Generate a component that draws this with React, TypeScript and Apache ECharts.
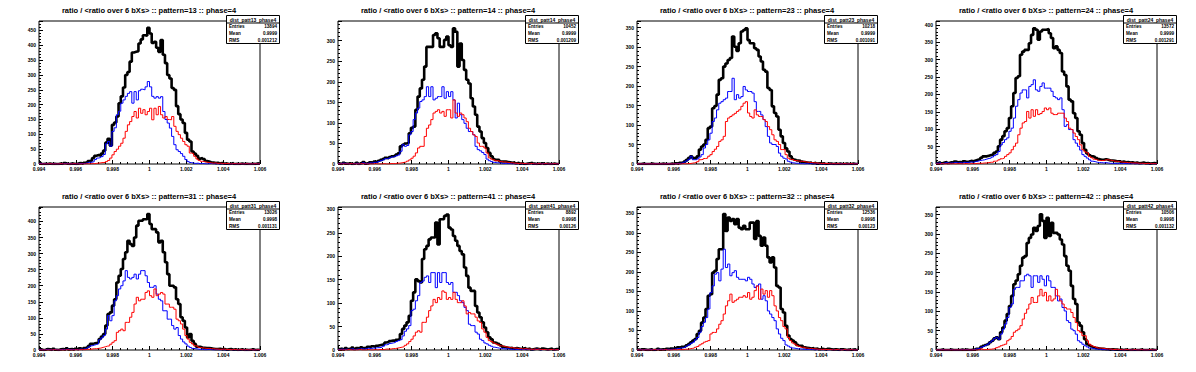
import { useEffect, useRef } from "react";
import * as echarts from "echarts";

// ---------- data ----------
const BIN_COUNT = 100;
const X_MIN = 0.994;
const X_MAX = 1.006;
const X_STEP = 0.002;
const Y_STEP = 50;

const patterns = ["13", "14", "23", "24", "31", "41", "32", "42"];
const entries = ["13894", "10452", "10218", "13572", "13026", "8892", "12536", "10506"];
const means = ["0.9999", "0.9999", "0.9999", "0.9999", "0.9998", "0.9998", "0.9998", "0.9998"];
const rmsValues = ["0.001212", "0.001209", "0.001091", "0.001291", "0.001131", "0.00126", "0.00123", "0.001132"];
const yMaxes = [482, 348, 367, 411, 445, 305, 366, 370];

const p13Black = [
  3,0,1,0,2,0,1,0,0,2, 0,3,1,0,2,1,0,2,3,1, 4,6,10,12,20,28,30,28,35,45,
  72,85,62,132,140,160,205,228,258,300, 310,345,376,378,380,406,420,434,432,459,
  440,408,412,392,378,418,368,340,300,288, 256,250,195,168,150,138,105,82,76,42,
  35,28,18,20,17,10,8,6,5,3, 4,2,3,1,2,0,1,3,0,1, 0,2,0,1,0,0,1,0,2,1,
];
const p13Blue = [
  2,0,1,0,1,0,1,0,0,1, 0,2,1,0,1,0,0,1,2,1, 2,4,6,6,8,15,20,22,25,32,
  68,76,60,110,122,166,178,205,216,228, 238,244,205,244,216,247,252,250,260,278,
  260,228,222,227,222,227,177,150,138,121, 93,65,48,42,35,26,15,8,5,3,
  2,3,1,2,1,0,1,2,0,1, 0,0,1,0,1,0,0,1,0,0, 1,0,0,1,0,0,0,1,0,0,
];
const p13Red = [
  0,0,0,0,1,0,0,0,0,1, 0,0,0,0,0,1,0,0,0,0, 0,1,0,1,1,2,3,4,5,5,
  8,12,20,31,42,50,60,70,87,110, 132,143,160,177,155,188,171,183,166,177,
  188,149,188,166,194,166,155,160,150,149, 160,127,110,99,87,76,65,60,37,35,
  26,17,12,9,8,6,5,4,3,4, 2,3,2,1,2,1,0,1,1,0, 1,0,0,1,0,0,0,1,0,0,
];

const p14Black = [
  2,0,3,1,0,2,0,1,3,0, 2,5,1,2,4,3,6,5,8,10, 12,15,14,17,19,20,23,26,43,47,
  50,51,75,88,91,132,164,184,205,237, 285,285,285,314,318,306,285,285,302,310,
  289,285,330,322,237,293,253,229,205,196, 160,140,120,91,79,63,51,39,27,19,
  12,10,10,6,6,6,5,4,3,4, 2,3,1,2,0,1,2,3,1,0, 1,0,2,0,1,0,0,1,0,0,
];
const p14Blue = [
  1,0,2,1,0,1,0,1,2,0, 1,3,1,2,3,2,4,4,6,8, 10,13,13,15,17,18,20,22,31,47,
  43,45,71,79,108,124,136,152,156,164, 188,164,188,156,160,164,164,188,160,176,
  164,176,156,112,148,120,108,99,87,79, 79,71,43,35,32,28,23,12,8,6,
  4,3,3,2,1,2,1,1,0,1, 0,1,0,1,0,0,1,0,0,0, 1,0,1,0,0,0,0,1,0,0,
];
const p14Red = [
  0,0,0,0,0,1,0,0,0,0, 1,0,0,0,0,0,1,0,0,0, 1,0,0,1,1,1,2,2,3,4,
  5,7,10,14,19,27,39,43,43,67, 87,95,108,124,128,132,124,128,116,132,
  132,112,156,124,116,124,120,112,103,87, 79,71,67,51,43,43,39,27,15,12,
  10,8,8,6,5,5,4,3,3,2, 2,1,2,1,1,0,1,1,0,0, 1,0,0,1,0,0,0,1,0,0,
];

const p23Black = [
  0,0,1,0,0,0,1,0,0,0, 0,1,0,0,0,1,0,2,1,3, 4,6,10,15,20,15,15,20,37,45,
  50,62,92,96,143,149,178,216,220,250, 258,267,272,327,301,290,310,340,344,348,
  318,310,310,297,293,276,263,242,237,195, 190,148,131,122,88,71,54,40,32,20,
  13,11,9,8,6,5,4,3,4,2, 3,1,2,1,2,0,1,1,0,1, 0,1,0,0,1,0,0,1,0,0,
];
const p23Blue = [
  0,0,0,1,0,0,0,0,1,0, 0,0,0,1,0,0,0,1,1,2, 3,5,8,12,20,11,11,13,18,24,
  41,50,62,79,109,118,139,156,160,165, 169,186,186,220,165,178,169,173,199,190,
  186,186,182,160,135,135,126,114,96,71, 54,50,50,45,28,20,15,13,7,5,
  3,2,2,1,1,0,1,0,1,0, 0,1,0,0,0,1,0,0,0,0, 0,1,0,0,0,0,0,0,1,0,
];
const p23Red = [
  0,0,0,0,0,0,0,0,0,0, 0,0,0,0,0,0,0,0,0,0, 1,0,1,1,2,3,4,6,11,12,
  14,15,20,24,32,38,45,58,62,71, 109,118,122,126,130,135,139,148,156,160,
  131,122,118,139,126,122,122,114,109,96, 88,75,62,58,50,37,37,24,15,12,
  11,9,8,7,7,6,5,4,4,3, 3,2,2,1,2,1,1,0,1,0, 1,0,0,1,0,0,1,0,0,0,
];

const p24Black = [
  3,5,2,4,6,3,5,4,7,5, 6,4,8,6,7,9,8,10,12,14, 18,22,22,24,26,27,32,36,51,70,
  80,94,103,132,166,204,247,252,314,323, 328,328,347,371,390,386,357,381,386,386,
  388,376,362,333,338,328,319,266,256,223, 185,180,146,132,94,84,60,41,30,25,
  22,20,17,14,12,12,14,12,10,10, 9,8,8,6,7,5,6,4,5,3, 4,2,3,4,2,3,1,2,3,1,
];
const p24Blue = [
  2,4,1,3,4,2,3,3,5,3, 4,3,5,4,5,6,5,7,8,10, 11,12,14,16,17,20,24,27,36,55,
  62,70,75,94,103,132,166,185,204,213, 213,190,223,228,242,213,209,223,233,218,
  218,218,209,194,190,185,190,156,108,113, 99,99,70,60,51,40,27,22,17,12,
  8,7,5,4,4,3,4,3,2,2, 2,1,2,1,2,1,1,0,1,1, 0,1,0,1,1,0,0,1,0,0,
];
const p24Red = [
  0,0,1,0,0,1,0,1,0,1, 1,0,1,1,0,1,1,1,2,2, 2,3,3,4,5,5,8,9,12,15,
  17,22,27,32,41,51,60,84,103,118, 122,151,132,156,137,156,142,145,151,161,
  156,161,146,142,142,146,146,146,132,122, 103,99,89,79,70,55,41,35,32,22,
  18,14,12,10,10,10,12,12,11,10, 8,8,7,6,5,5,4,4,3,3, 3,2,2,2,1,2,1,1,1,0,
];

const p31Black = [
  2,0,1,3,2,0,4,1,0,2, 3,1,5,2,3,1,4,2,5,3, 6,8,12,19,20,22,24,34,42,50,
  76,112,117,138,158,210,231,252,283,304, 340,330,324,350,387,402,402,407,407,423,
  392,376,376,366,335,340,304,273,236,200, 200,195,158,143,102,91,70,39,50,29,
  19,10,10,8,7,6,6,5,4,3, 3,4,2,3,1,2,3,1,2,0, 1,2,0,1,0,1,2,0,1,0,
];
const p31Blue = [
  1,0,1,2,1,0,2,1,0,1, 2,1,3,1,2,1,2,1,3,2, 4,6,9,13,15,17,19,32,38,45,
  65,107,91,107,153,169,190,200,215,247, 226,221,226,236,221,236,247,247,231,210,
  195,195,200,174,158,153,122,122,96,96, 76,65,70,45,34,25,19,12,8,5,
  4,3,2,2,1,1,2,1,0,1, 1,0,1,0,0,1,1,0,1,0, 0,1,0,0,0,1,0,0,1,0,
];
const p31Red = [
  0,0,0,0,0,0,1,0,0,0, 0,0,1,0,0,0,1,0,1,1, 1,2,2,3,4,4,5,6,8,10,
  12,13,18,24,29,55,60,65,60,86, 86,102,117,143,164,153,158,158,179,184,
  169,164,190,169,174,179,174,143,143,133, 133,127,96,91,81,65,45,34,24,19,
  13,11,8,7,6,5,5,4,4,3, 3,2,2,3,1,2,1,1,2,0, 1,1,0,1,0,1,0,0,1,0,
];

const p41Black = [
  2,3,1,4,2,3,5,2,4,3, 6,4,5,7,6,8,7,9,10,11, 12,16,17,19,20,20,22,23,34,45,
  52,59,73,105,123,151,147,144,194,215, 222,236,240,240,272,225,279,279,286,289,
  261,257,243,233,222,211,204,176,158,133, 126,126,94,80,70,59,48,38,27,23,
  16,15,13,10,7,6,5,4,5,3, 4,3,2,3,4,2,3,1,2,3, 2,1,3,2,1,2,3,1,2,2,
];
const p41Blue = [
  1,2,1,2,1,2,3,1,2,2, 3,2,3,4,3,4,4,5,5,6, 8,11,12,14,15,16,18,20,22,30,
  40,45,52,84,87,105,116,144,147,155, 158,144,165,165,133,165,144,165,165,144,
  140,144,123,123,116,105,101,91,84,55, 52,52,38,34,23,20,15,13,10,8,
  6,5,4,3,3,2,3,2,1,2, 1,2,1,1,2,1,1,0,1,2, 1,0,1,1,0,1,1,0,1,1,
];
const p41Red = [
  0,0,0,0,1,0,0,0,0,1, 0,0,0,1,0,0,1,0,1,1, 1,2,2,2,3,3,4,5,6,7,
  10,13,18,23,30,38,41,38,59,59, 70,84,94,108,101,112,108,126,123,108,
  112,108,123,108,101,101,105,94,77,80, 77,77,70,62,59,45,38,27,20,18,
  15,13,11,9,8,7,6,5,5,4, 4,3,3,2,3,2,2,1,2,1, 2,1,1,1,0,1,1,0,1,0,
];

const p32Black = [
  1,0,2,1,0,1,2,0,1,3, 1,2,1,3,2,4,3,5,7,6, 8,9,12,15,20,24,28,41,49,70,
  83,105,139,143,198,203,233,258,258,348, 305,339,330,335,322,335,313,309,318,309,
  309,326,326,284,330,292,267,288,267,237, 224,237,211,164,160,105,96,62,37,28,
  24,20,13,11,11,7,6,5,4,5, 3,4,2,3,2,1,3,2,1,2, 1,0,2,1,0,1,0,1,2,0,
];
const p32Blue = [
  0,1,0,1,0,1,1,0,1,2, 1,1,1,2,1,2,2,3,4,5, 6,7,10,13,17,20,26,32,45,60,
  71,83,105,147,164,194,198,177,207,258, 211,220,190,198,203,186,181,181,181,177,
  186,181,169,160,164,169,130,139,126,100, 92,83,75,54,41,30,24,13,10,7,
  5,4,3,3,2,2,1,2,1,1, 0,1,1,0,1,0,0,1,0,1, 0,0,1,0,0,0,1,0,0,0,
];
const p32Red = [
  0,0,0,0,0,0,0,1,0,0, 0,0,1,0,0,0,1,0,1,1, 1,2,2,3,4,5,7,9,13,16,
  20,22,24,41,45,45,54,66,75,92, 113,126,143,122,126,130,135,135,139,135,
  147,130,135,152,164,130,156,143,152,135, 152,139,113,100,83,75,60,54,32,24,
  18,15,11,9,7,7,5,4,4,3, 3,2,2,1,2,1,1,1,0,1, 1,0,0,1,0,0,1,0,0,0,
];

const p42Black = [
  0,0,1,0,0,0,1,0,0,0, 0,1,0,1,0,0,1,1,3,4, 8,11,13,15,20,24,30,33,28,46,
  58,76,93,114,140,170,180,196,218,239, 243,277,290,299,316,308,321,351,334,290,
  342,295,329,303,303,299,286,273,243,218, 205,166,132,119,71,63,46,28,15,12,
  9,7,5,4,3,3,2,2,1,2, 1,1,0,1,0,1,0,0,1,0, 0,0,1,0,0,0,0,1,0,0,
];
const p42Blue = [
  0,0,1,0,0,0,1,0,0,0, 0,1,0,1,0,0,1,1,3,4, 7,9,12,15,20,24,30,33,28,41,
  54,67,84,110,119,157,162,162,179,179, 192,196,192,162,192,192,175,192,183,166,
  192,179,162,162,140,127,132,110,101,76, 71,54,50,41,24,20,15,11,8,5,
  4,3,2,2,1,1,1,0,1,0, 0,1,0,0,0,0,1,0,0,0, 0,0,1,0,0,0,0,0,0,0,
];
const p42Red = [
  0,0,0,0,0,0,0,0,0,0, 0,0,0,0,0,0,0,0,0,1, 3,1,1,2,2,3,4,6,8,11,
  13,15,24,28,35,46,50,54,63,80, 95,106,119,136,123,123,140,157,140,149,
  127,140,127,132,157,140,127,119,110,106, 106,97,84,71,50,46,37,37,24,15,
  11,9,7,5,5,4,3,3,2,2, 1,2,1,1,0,1,1,0,0,1, 0,0,1,0,0,0,1,0,0,0,
];

const blackSeries = [p13Black, p14Black, p23Black, p24Black, p31Black, p41Black, p32Black, p42Black];
const blueSeries = [p13Blue, p14Blue, p23Blue, p24Blue, p31Blue, p41Blue, p32Blue, p42Blue];
const redSeries = [p13Red, p14Red, p23Red, p24Red, p31Red, p41Red, p32Red, p42Red];

// ---------- layout ----------
const W = 1196;
const H = 372;
const PANEL_W = 299;
const PANEL_H = 186;
const PLOT_L = 39;
const PLOT_T = 21;
const PLOT_W = 221;
const PLOT_H = 143;
const FONT = "'Liberation Sans', Arial, Helvetica, sans-serif";

const binEdge = (i: number) => X_MIN + (i * (X_MAX - X_MIN)) / BIN_COUNT;
const toSteps = (vals: number[]) => {
  const pts: number[][] = vals.map((v, i) => [binEdge(i), v]);
  pts.push([binEdge(vals.length), vals[vals.length - 1]]);
  return pts;
};

function buildOption() {
  const grids: any[] = [];
  const xAxes: any[] = [];
  const yAxes: any[] = [];
  const series: any[] = [];
  const graphics: any[] = [];

  patterns.forEach((pat, idx) => {
    const col = idx % 4;
    const row = Math.floor(idx / 4);
    const ox = col * PANEL_W;
    const oy = row * PANEL_H;

    grids.push({
      left: ox + PLOT_L,
      top: oy + PLOT_T,
      width: PLOT_W,
      height: PLOT_H,
      show: true,
      borderColor: "#000",
      borderWidth: 1,
      backgroundColor: "transparent",
    });

    xAxes.push({
      type: "value",
      gridIndex: idx,
      min: X_MIN,
      max: X_MAX,
      interval: X_STEP,
      axisLine: { show: false },
      splitLine: { show: false },
      axisTick: { show: true, inside: true, length: 4, lineStyle: { color: "#000", width: 1 } },
      minorTick: { show: true, splitNumber: 5, length: 2, lineStyle: { color: "#000", width: 1 } },
      axisLabel: {
        fontSize: 5,
        fontFamily: FONT,
        fontWeight: "bold",
        color: "#000",
        margin: 2,
        formatter: (v: number) => String(parseFloat(v.toFixed(3))),
      },
    });

    yAxes.push({
      type: "value",
      gridIndex: idx,
      min: 0,
      max: yMaxes[idx],
      interval: Y_STEP,
      axisLine: { show: false },
      splitLine: { show: false },
      axisTick: { show: true, inside: true, length: 4, lineStyle: { color: "#000", width: 1 } },
      minorTick: { show: true, splitNumber: 5, length: 2, lineStyle: { color: "#000", width: 1 } },
      axisLabel: {
        fontSize: 5,
        fontFamily: FONT,
        fontWeight: "bold",
        color: "#000",
        margin: 3,
        formatter: (v: number) => (Math.abs(v % Y_STEP) < 1e-6 ? String(Math.round(v)) : ""),
      },
    });

    const mk = (vals: number[], color: string, width: number, z: number) => ({
      type: "line",
      xAxisIndex: idx,
      yAxisIndex: idx,
      data: toSteps(vals),
      step: "end",
      symbol: "none",
      showSymbol: false,
      silent: true,
      clip: true,
      z,
      lineStyle: { color, width },
    });
    series.push(mk(blackSeries[idx], "#000000", 2.6, 2));
    series.push(mk(blueSeries[idx], "#0000ff", 1, 3));
    series.push(mk(redSeries[idx], "#ff0000", 1, 4));

    graphics.push({
      type: "text",
      x: ox + 149,
      y: oy + 10,
      z: 100,
      style: {
        text: `ratio / <ratio over 6 bXs> :: pattern=${pat} :: phase=4`,
        fill: "#000",
        font: `bold 7.5px ${FONT}`,
        align: "center",
        verticalAlign: "middle",
      },
    });

    const bx = ox + 226.5;
    const by = oy + 15.5;
    const bw = 53;
    const bh = 28;
    graphics.push({
      type: "group",
      z: 100,
      children: [
        { type: "rect", z: 100, shape: { x: bx, y: by, width: bw, height: bh }, style: { fill: "#fff", stroke: "#000", lineWidth: 1 } },
        { type: "line", z: 101, shape: { x1: bx, y1: by + 7.5, x2: bx + bw, y2: by + 7.5 }, style: { stroke: "#000", lineWidth: 1 } },
        {
          type: "text", z: 101, x: bx + bw / 2, y: by + 4,
          style: { text: `dist_patt${pat}_phase4`, fill: "#000", font: `bold 5px ${FONT}`, align: "center", verticalAlign: "middle" },
        },
        ...[
          ["Entries", entries[idx], 11.3],
          ["Mean", means[idx], 18],
          ["RMS", rmsValues[idx], 24.8],
        ].flatMap(([label, val, dy]) => [
          {
            type: "text", z: 101, x: bx + 2.5, y: by + (dy as number),
            style: { text: label as string, fill: "#000", font: `bold 4.6px ${FONT}`, align: "left", verticalAlign: "middle" },
          },
          {
            type: "text", z: 101, x: bx + bw - 2.5, y: by + (dy as number),
            style: { text: val as string, fill: "#000", font: `bold 4.6px ${FONT}`, align: "right", verticalAlign: "middle" },
          },
        ]),
      ],
    });
  });

  return {
    animation: false,
    backgroundColor: "#ffffff",
    grid: grids,
    xAxis: xAxes,
    yAxis: yAxes,
    series,
    graphic: graphics,
  };
}

export default function App() {
  const ref = useRef<HTMLDivElement>(null);
  useEffect(() => {
    document.body.style.margin = "0";
    if (!ref.current) return;
    const chart = echarts.init(ref.current, undefined, { renderer: "svg", width: W, height: H });
    chart.setOption(buildOption() as any);
    return () => chart.dispose();
  }, []);
  return <div ref={ref} style={{ width: W, height: H }} />;
}
